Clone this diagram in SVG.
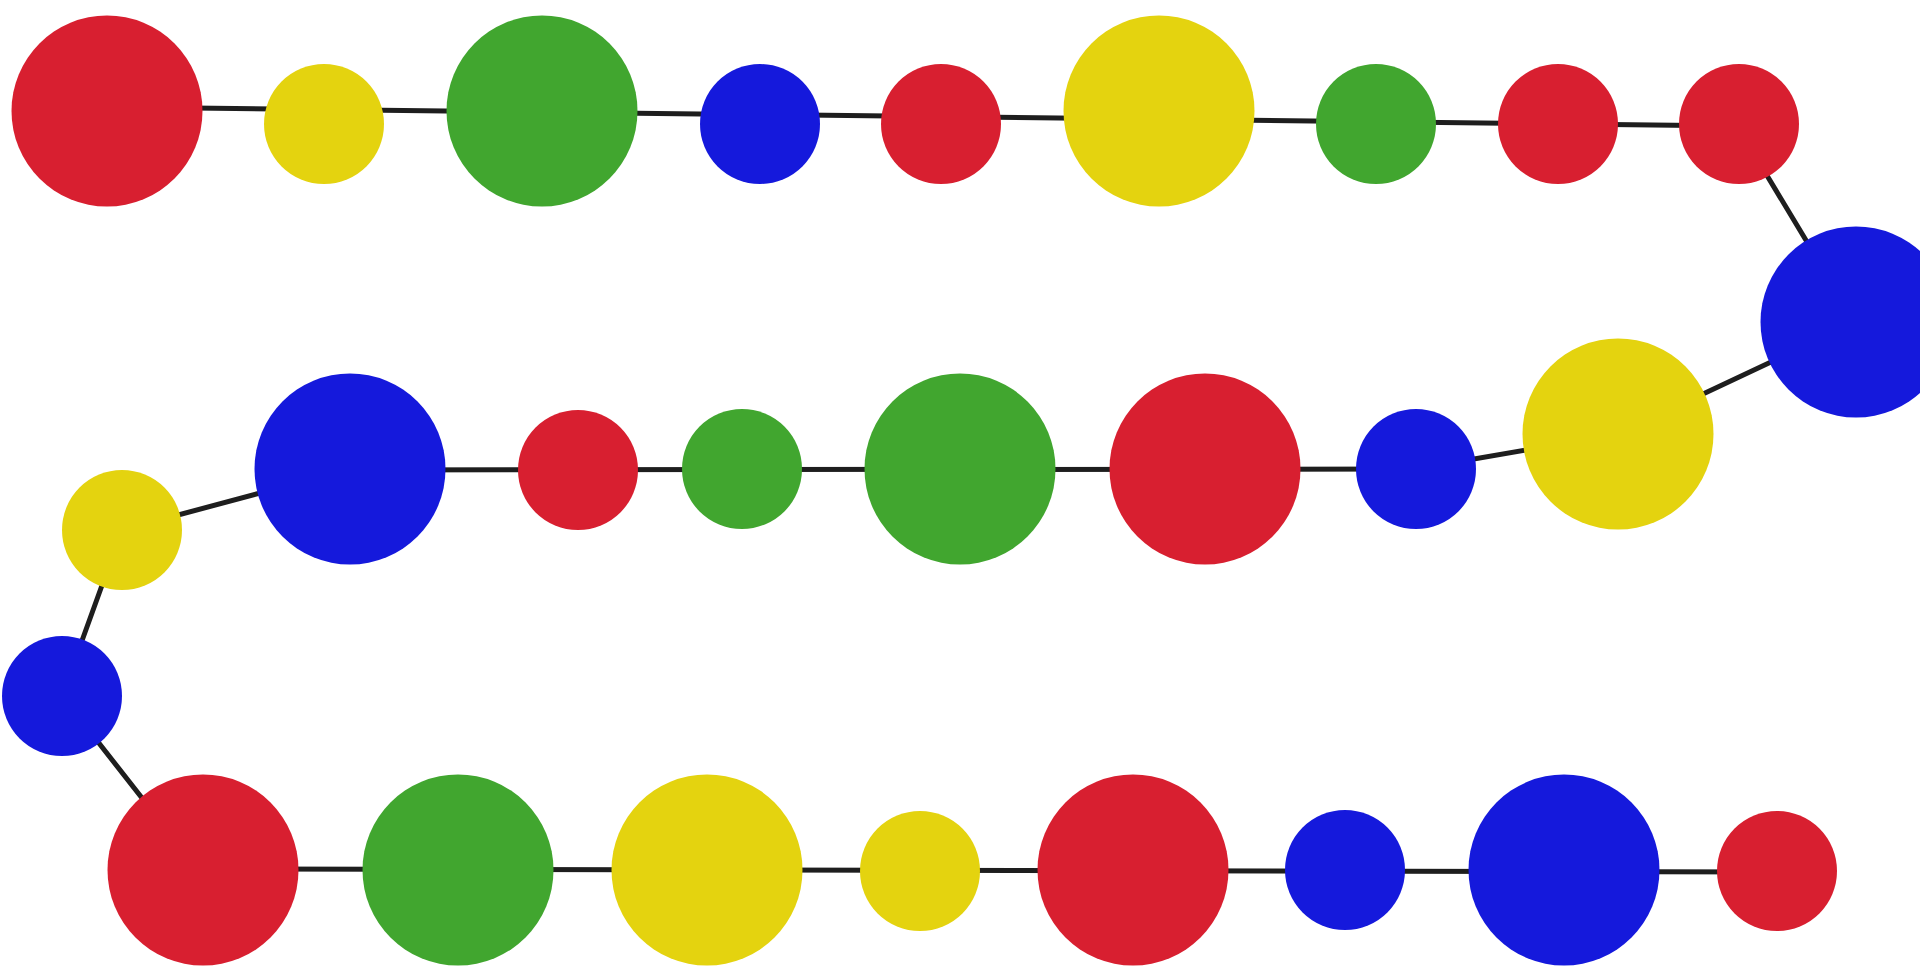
<svg xmlns="http://www.w3.org/2000/svg" width="1920" height="973" viewBox="0 0 1920 973">
<style>
.edge{stroke:#1e1e1e;stroke-width:5;fill:none;stroke-linecap:round}
.r{fill:#D81F30}.y{fill:#E4D30F}.g{fill:#41A62F}.b{fill:#1519DC}
</style>
<rect width="1920" height="973" fill="#ffffff"/>
<g id="connectors">
<line class="edge" x1="108" y1="107" x2="1739" y2="126"/>
<line class="edge" x1="1736" y1="124" x2="1854" y2="320"/>
<line class="edge" x1="1856" y1="322" x2="1618" y2="434"/>
<line class="edge" x1="1618" y1="434" x2="1416" y2="469"/>
<line class="edge" x1="1416" y1="469" x2="350" y2="470"/>
<line class="edge" x1="350" y1="469" x2="122" y2="530"/>
<line class="edge" x1="122" y1="530" x2="62" y2="696"/>
<line class="edge" x1="62" y1="696" x2="200" y2="872"/>
<line class="edge" x1="203" y1="869" x2="1777" y2="872"/>
</g>
<g id="n1"><circle class="r" cx="107" cy="111" r="95.5"/></g>
<g id="n2"><circle class="y" cx="324" cy="124" r="60"/></g>
<g id="n3"><circle class="g" cx="542" cy="111" r="95.5"/></g>
<g id="n4"><circle class="b" cx="760" cy="124" r="60"/></g>
<g id="n5"><circle class="r" cx="941" cy="124" r="60"/></g>
<g id="n6"><circle class="y" cx="1159" cy="111" r="95.5"/></g>
<g id="n7"><circle class="g" cx="1376" cy="124" r="60"/></g>
<g id="n8"><circle class="r" cx="1558" cy="124" r="60"/></g>
<g id="n9"><circle class="r" cx="1739" cy="124" r="60"/></g>
<g id="n10"><circle class="b" cx="1856" cy="322" r="95.5"/></g>
<g id="n11"><circle class="y" cx="1618" cy="434" r="95.5"/></g>
<g id="n12"><circle class="b" cx="1416" cy="469" r="60"/></g>
<g id="n13"><circle class="r" cx="1205" cy="469" r="95.5"/></g>
<g id="n14"><circle class="g" cx="960" cy="469" r="95.5"/></g>
<g id="n15"><circle class="g" cx="742" cy="469" r="60"/></g>
<g id="n16"><circle class="r" cx="578" cy="470" r="60"/></g>
<g id="n17"><circle class="b" cx="350" cy="469" r="95.5"/></g>
<g id="n18"><circle class="y" cx="122" cy="530" r="60"/></g>
<g id="n19"><circle class="b" cx="62" cy="696" r="60"/></g>
<g id="n20"><circle class="r" cx="203" cy="870" r="95.5"/></g>
<g id="n21"><circle class="g" cx="458" cy="870" r="95.5"/></g>
<g id="n22"><circle class="y" cx="707" cy="870" r="95.5"/></g>
<g id="n23"><circle class="y" cx="920" cy="871" r="60"/></g>
<g id="n24"><circle class="r" cx="1133" cy="870" r="95.5"/></g>
<g id="n25"><circle class="b" cx="1345" cy="870" r="60"/></g>
<g id="n26"><circle class="b" cx="1564" cy="870" r="95.5"/></g>
<g id="n27"><circle class="r" cx="1777" cy="871" r="60"/></g>
</svg>
